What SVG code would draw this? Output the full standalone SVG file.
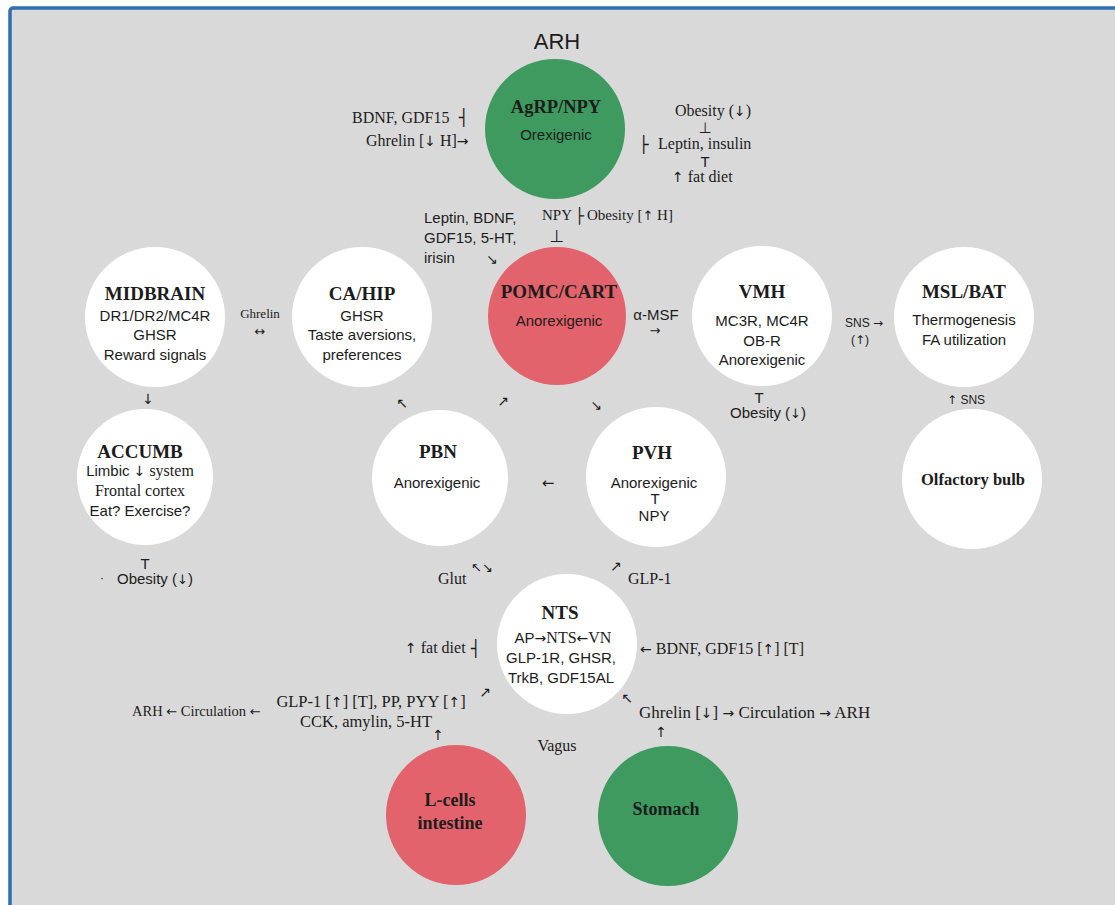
<svg xmlns="http://www.w3.org/2000/svg" width="1115" height="905" viewBox="0 0 1115 905">
<style>
.bg{fill:#d9d9d9;stroke:#2f6fae;stroke-width:3.5}
.w{fill:#ffffff}
.g{fill:#3e9a5f}
.r{fill:#e2636b}
text{fill:#1c1c1c}
.t{font-family:"Liberation Serif","DejaVu Serif",serif;font-weight:bold;font-size:19px;text-anchor:middle}
.s{font-family:"Liberation Sans","DejaVu Sans",sans-serif;font-size:15px}
.f{font-family:"Liberation Serif","DejaVu Serif",serif;font-size:16px}
.m{text-anchor:middle}
.sym{font-family:"DejaVu Sans",sans-serif;font-size:15px}
.a{font-family:"DejaVu Sans",sans-serif;font-weight:normal}
</style>
<rect x="0" y="0" width="1115" height="905" fill="#ffffff"/>
<rect class="bg" x="10" y="8" width="1130" height="920" rx="3"/>

<g id="agrp">
<text class="s m" x="557" y="49" style="font-size:22px">ARH</text>
<circle class="g" cx="555" cy="129" r="70"/>
<text class="t" x="556" y="113" style="font-size:18.5px">AgRP/NPY</text>
<text class="s m" x="556" y="140">Orexigenic</text>
</g>
<g id="pomc">
<circle class="r" cx="557" cy="316" r="69"/>
<text class="t" x="559" y="298">POMC/CART</text>
<text class="s m" x="559" y="326">Anorexigenic</text>
</g>
<g id="midbrain">
<circle class="w" cx="155" cy="317" r="70"/>
<text class="t" x="155" y="300">MIDBRAIN</text>
<text class="s m" x="155" y="321">DR1/DR2/MC4R</text>
<text class="s m" x="155" y="340">GHSR</text>
<text class="s m" x="155" y="360">Reward signals</text>
</g>
<g id="cahip">
<circle class="w" cx="362" cy="317" r="70"/>
<text class="t" x="362" y="300">CA/HIP</text>
<text class="s m" x="362" y="321">GHSR</text>
<text class="s m" x="362" y="340">Taste aversions,</text>
<text class="s m" x="362" y="360">preferences</text>
</g>
<g id="vmh">
<circle class="w" cx="762" cy="316" r="70"/>
<text class="t" x="762" y="298">VMH</text>
<text class="s m" x="762" y="326">MC3R, MC4R</text>
<text class="s m" x="762" y="346">OB-R</text>
<text class="s m" x="762" y="365">Anorexigenic</text>
</g>
<g id="mslbat">
<circle class="w" cx="964" cy="317" r="70"/>
<text class="t" x="964" y="298">MSL/BAT</text>
<text class="s m" x="964" y="325">Thermogenesis</text>
<text class="s m" x="964" y="345">FA utilization</text>
</g>
<g id="accumb">
<circle class="w" cx="145" cy="477" r="68"/>
<text class="t" x="140" y="458">ACCUMB</text>
<text class="m" x="140" y="476"><tspan class="s">Limbic </tspan><tspan class="f"><tspan class="a" style="font-size:14px">↓</tspan> system</tspan></text>
<text class="f m" x="140" y="496">Frontal cortex</text>
<text class="s m" x="140" y="516">Eat? Exercise?</text>
</g>
<g id="pbn">
<circle class="w" cx="440" cy="478" r="68"/>
<text class="t" x="438" y="458">PBN</text>
<text class="s m" x="437" y="488">Anorexigenic</text>
</g>
<g id="pvh">
<circle class="w" cx="656" cy="477" r="70"/>
<text class="t" x="652" y="459">PVH</text>
<text class="s m" x="654" y="488">Anorexigenic</text>
<text class="s m" x="655" y="504" style="font-size:15px">T</text>
<text class="s m" x="654" y="521">NPY</text>
</g>
<g id="olfactory">
<circle class="w" cx="972" cy="479" r="70"/>
<text class="t" x="973" y="485" style="font-size:16.5px">Olfactory bulb</text>
</g>
<g id="nts">
<circle class="w" cx="567" cy="644" r="70"/>
<text class="t" x="560" y="619">NTS</text>
<text class="m" x="563" y="643"><tspan class="s">AP</tspan><tspan class="f"><tspan class="a" style="font-size:14px">→</tspan>NTS<tspan class="a" style="font-size:14px">←</tspan>VN</tspan></text>
<text class="s m" x="561" y="663">GLP-1R, GHSR,</text>
<text class="s m" x="561" y="683">TrkB, GDF15AL</text>
</g>
<g id="lcells">
<circle class="r" cx="456" cy="815" r="70"/>
<text class="t" x="450" y="806" style="font-size:18px">L-cells</text>
<text class="t" x="450" y="829" style="font-size:18px">intestine</text>
</g>
<g id="stomach">
<circle class="g" cx="668" cy="816" r="70"/>
<text class="t" x="666" y="815" style="font-size:18px">Stomach</text>
</g>

<g id="connectors">
<text class="f" x="352" y="123">BDNF, GDF15</text>
<text class="sym" x="459" y="123" style="font-size:16px">┤</text>
<text class="f" x="366" y="146">Ghrelin [<tspan class="a" style="font-size:14px">↓</tspan> H]<tspan class="a" style="font-size:14px">→</tspan></text>
<text class="f m" x="713" y="116">Obesity (<tspan class="a" style="font-size:14px">↓</tspan>)</text>
<text class="sym m" x="705" y="133" style="font-size:15px">⊥</text>
<text class="sym" x="639" y="150" style="font-size:16px">├</text>
<text class="f" x="658" y="149">Leptin, insulin</text>
<text class="s m" x="705" y="167" style="font-size:15px">T</text>
<text class="f" x="672" y="182"><tspan class="a" style="font-size:14px">↑</tspan> fat diet</text>
<text class="s" x="424" y="223">Leptin, BDNF,</text>
<text class="s" x="424" y="243">GDF15, 5-HT,</text>
<text class="s" x="424" y="263">irisin</text>
<text class="sym" x="486" y="264" style="font-size:14px">↘</text>
<text class="f" x="542" y="220" style="font-size:15px">NPY</text>
<text class="sym" x="575" y="221" style="font-size:15px">├</text>
<text class="f" x="587" y="220" style="font-size:15px">Obesity [<tspan class="a" style="font-size:13px">↑</tspan> H]</text>
<text class="sym m" x="557" y="242" style="font-size:17px">⊥</text>
<text class="s m" x="656" y="320">α-MSF</text>
<text class="sym m" x="655" y="335" style="font-size:13px">→</text>
<text class="f m" x="260" y="318" style="font-size:13px">Ghrelin</text>
<text class="sym m" x="260" y="336" style="font-size:13px">↔</text>
<text class="sym m" x="148" y="404" style="font-size:14px">↓</text>
<text class="sym m" x="402" y="408" style="font-size:14px">↖</text>
<text class="sym m" x="503" y="406" style="font-size:14px">↗</text>
<text class="sym m" x="596" y="410" style="font-size:14px">↘</text>
<text class="s m" x="759" y="403" style="font-size:15px">T</text>
<text class="s m" x="768" y="418">Obesity (<tspan class="a" style="font-size:13px">↓</tspan>)</text>
<text class="s" x="845" y="327" style="font-size:12px">SNS <tspan class="a" style="font-size:12px">→</tspan></text>
<text class="s m" x="860" y="344" style="font-size:12px">(<tspan class="a">↑</tspan>)</text>
<text class="s" x="947" y="404" style="font-size:12px"><tspan class="a">↑</tspan> SNS</text>
<text class="s m" x="145" y="569" style="font-size:15px">T</text>
<text class="s" x="100" y="582" style="font-size:12px">·</text>
<text class="s" x="117" y="584">Obesity (<tspan class="a" style="font-size:13px">↓</tspan>)</text>
<text class="sym m" x="548" y="488" style="font-size:15px">←</text>
<text class="f" x="438" y="584">Glut</text>
<text class="sym" x="471" y="572" style="font-size:13px">↖↘</text>
<text class="sym" x="610" y="571" style="font-size:14px">↗</text>
<text class="f" x="628" y="584">GLP-1</text>
<text class="f" x="405" y="653"><tspan class="a" style="font-size:14px">↑</tspan> fat diet</text>
<text class="sym" x="471" y="654" style="font-size:16px">┤</text>
<text class="f" x="640" y="654"><tspan class="a" style="font-size:14px">←</tspan> BDNF, GDF15 [<tspan class="a" style="font-size:14px">↑</tspan>] [T]</text>
<text class="sym m" x="485" y="697" style="font-size:14px">↗</text>
<text class="sym m" x="627" y="703" style="font-size:14px">↖</text>
<text class="f m" x="371" y="707" style="font-size:16.5px">GLP-1 [<tspan class="a" style="font-size:14px">↑</tspan>] [T], PP, PYY [<tspan class="a" style="font-size:14px">↑</tspan>]</text>
<text class="f m" x="366" y="727" style="font-size:16.5px">CCK, amylin, 5-HT</text>
<text class="f" x="132" y="716" style="font-size:14.5px">ARH <tspan class="a" style="font-size:13px">←</tspan> Circulation <tspan class="a" style="font-size:13px">←</tspan></text>
<text class="sym m" x="438" y="740" style="font-size:14px">↑</text>
<text class="f" x="639" y="718" style="font-size:17px">Ghrelin [<tspan class="a" style="font-size:14px">↓</tspan>] <tspan class="a" style="font-size:14px">→</tspan> Circulation <tspan class="a" style="font-size:14px">→</tspan> ARH</text>
<text class="sym m" x="661" y="737" style="font-size:14px">↑</text>
<text class="f m" x="557" y="751">Vagus</text>
</g>
</svg>
